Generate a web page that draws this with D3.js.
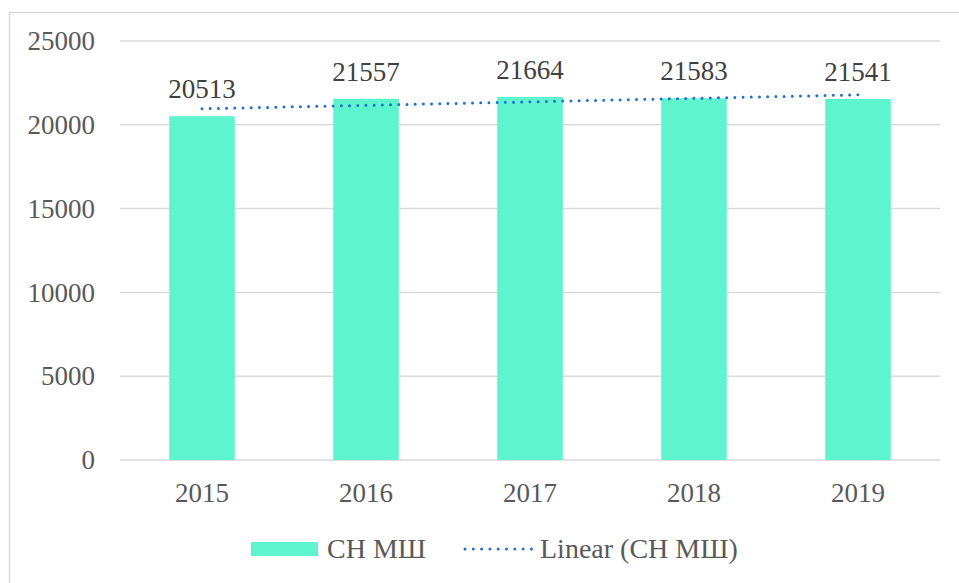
<!DOCTYPE html>
<html>
<head>
<meta charset="utf-8">
<script src="https://cdn.jsdelivr.net/npm/d3@7"></script>
<style>
  body { margin: 0; background: #fff; }
</style>
</head>
<body>
<div id="chart"></div>
<script>
let years = ['2015', '2016', '2017', '2018', '2019']
let values = [20513, 21557, 21664, 21583, 21541]
let yTicks = [0, 5000, 10000, 15000, 20000, 25000]
let seriesName = 'СН МШ'
let trendName = 'Linear (СН МШ)'

let width = 959,
  height = 583

let margin = { top: 41, right: 19, bottom: 123, left: 120 }
let font = "'Liberation Serif', 'Times New Roman', serif"
let textColor = '#595959'

let svg = d3.select('#chart')
  .append('svg')
  .attr('width', width)
  .attr('height', height)
  .style('font-family', font)

// outer chart border (right and bottom edges fall outside the picture)
svg.append('rect')
  .attr('x', 9.5)
  .attr('y', 12.5)
  .attr('width', 960)
  .attr('height', 590)
  .attr('fill', 'none')
  .attr('stroke', '#d9d9d9')
  .attr('stroke-width', 1.5)

let x = d3.scaleBand()
  .domain(years)
  .range([margin.left, width - margin.right])
  .paddingInner(0.6)
  .paddingOuter(0.3)

let y = d3.scaleLinear()
  .domain([0, 25000])
  .range([height - margin.bottom, margin.top])

// gridlines
svg.append('g')
  .selectAll('line')
  .data(yTicks)
  .enter().append('line')
  .attr('x1', margin.left)
  .attr('x2', width - margin.right)
  .attr('y1', d => y(d))
  .attr('y2', d => y(d))
  .attr('stroke', '#d9d9d9')
  .attr('stroke-width', 1.5)

// y tick labels
svg.append('g')
  .selectAll('text')
  .data(yTicks)
  .enter().append('text')
  .attr('x', 95)
  .attr('y', d => y(d))
  .attr('dy', '0.34em')
  .attr('text-anchor', 'end')
  .attr('fill', textColor)
  .style('font-family', font)
  .style('font-size', '27px')
  .text(d => d)

// bars
svg.append('g')
  .selectAll('rect')
  .data(values)
  .enter().append('rect')
  .attr('x', (d, i) => x(years[i]))
  .attr('width', x.bandwidth())
  .attr('y', d => y(d))
  .attr('height', d => y(0) - y(d))
  .attr('fill', '#5ef5ce')

// value labels
svg.append('g')
  .selectAll('text')
  .data(values)
  .enter().append('text')
  .attr('x', (d, i) => x(years[i]) + x.bandwidth() / 2)
  .attr('y', d => y(d) - 18)
  .attr('text-anchor', 'middle')
  .attr('fill', '#404040')
  .style('font-family', font)
  .style('font-size', '27px')
  .text(d => d)

// x labels
svg.append('g')
  .selectAll('text')
  .data(years)
  .enter().append('text')
  .attr('x', d => x(d) + x.bandwidth() / 2)
  .attr('y', 502)
  .attr('text-anchor', 'middle')
  .attr('fill', textColor)
  .style('font-family', font)
  .style('font-size', '27px')
  .text(d => d)

// linear trend (least squares over category index)
let n = values.length
let meanX = (n + 1) / 2
let meanY = d3.mean(values)
let slope = d3.sum(values, (v, i) => (i + 1 - meanX) * (v - meanY)) /
  d3.sum(values, (v, i) => (i + 1 - meanX) * (i + 1 - meanX))
let trend = years.map((yr, i) => ({ year: yr, value: meanY + slope * (i + 1 - meanX) }))

svg.append('path')
  .datum([trend[0], trend[n - 1]])
  .attr('d', d3.line()
    .x(d => x(d.year) + x.bandwidth() / 2)
    .y(d => y(d.value)))
  .attr('fill', 'none')
  .attr('stroke', '#1f6fcf')
  .attr('stroke-width', 3)
  .attr('stroke-linecap', 'round')
  .attr('stroke-dasharray', '0 8.2')

// legend
let legend = svg.append('g')

legend.append('rect')
  .attr('x', 251)
  .attr('y', 542)
  .attr('width', 67)
  .attr('height', 14)
  .attr('fill', '#5ef5ce')

legend.append('text')
  .attr('x', 327)
  .attr('y', 558)
  .attr('fill', textColor)
  .style('font-family', font)
  .style('font-size', '28px')
  .text(seriesName)

legend.append('line')
  .attr('x1', 465)
  .attr('x2', 532)
  .attr('y1', 549)
  .attr('y2', 549)
  .attr('stroke', '#1f6fcf')
  .attr('stroke-width', 3)
  .attr('stroke-linecap', 'round')
  .attr('stroke-dasharray', '0 8.3')

legend.append('text')
  .attr('x', 540)
  .attr('y', 558)
  .attr('fill', textColor)
  .style('font-family', font)
  .style('font-size', '28px')
  .text(trendName)
</script>
</body>
</html>
